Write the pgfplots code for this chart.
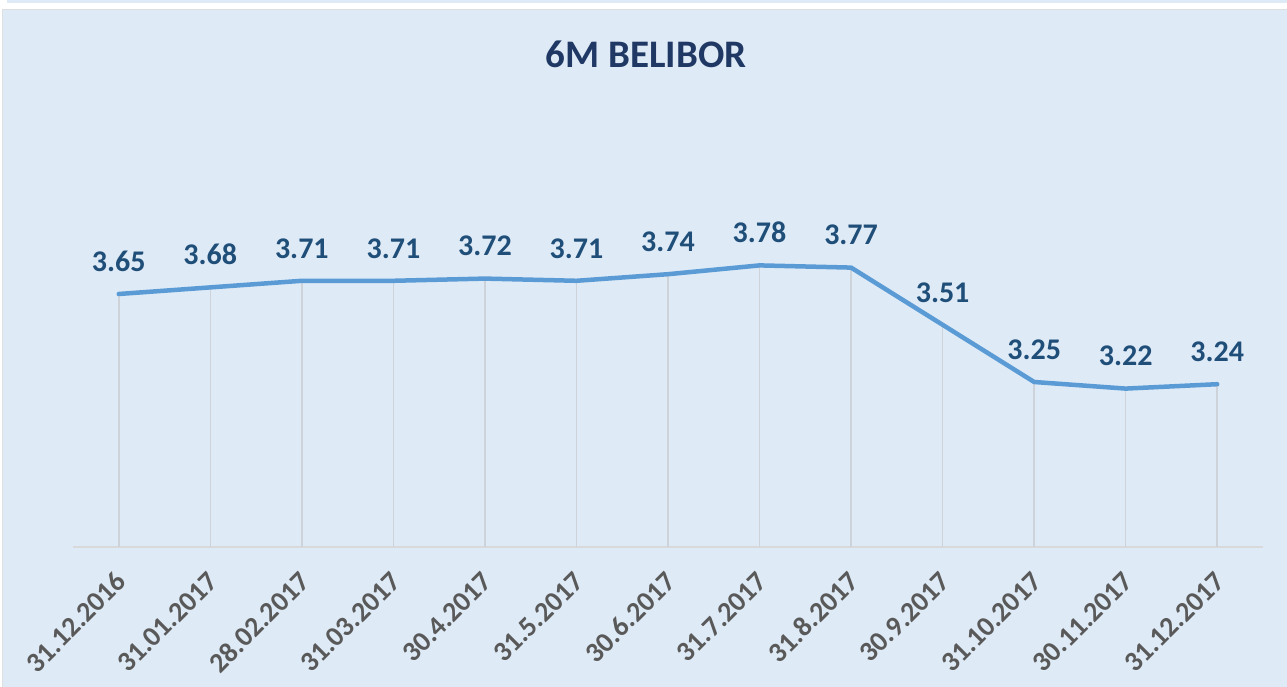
\documentclass[border=0pt]{standalone}
\usepackage{pgfplots}
\pgfplotsset{compat=1.18}
\usepackage{fontspec}
\setmainfont{Carlito}
\definecolor{bgblue}{HTML}{DEEAF6}
\definecolor{linecol}{HTML}{5B9BD5}
\definecolor{labcol}{HTML}{1F4E79}
\definecolor{titlecol}{HTML}{203864}
\definecolor{tickcol}{HTML}{595959}
\definecolor{dropcol}{HTML}{CDD3D9}
\begin{document}
\begin{tikzpicture}[x=1pt,y=1pt]
\useasboundingbox (0,0) rectangle (1287,687);
\fill[white] (0,0) rectangle (1287,687);
\fill[bgblue] (7,684) rectangle (1287,687);
\draw[gray!25, fill=bgblue, line width=1pt] (2,-2) rectangle (1290,677);
\node[font=\bfseries\fontsize{39}{42}\selectfont, text=titlecol] at (646,633) {6M BELIBOR};
\begin{axis}[
  at={(73pt,140pt)}, anchor=south west,
  scale only axis, width=1190pt, height=440pt,
  xmin=-0.5, xmax=12.5, ymin=2.5, ymax=4.5,
  axis y line=none, axis x line=bottom,
  x axis line style={draw=gray!30, line width=2pt, -},
  xtick={0,...,12},
  xticklabels={31.12.2016,31.01.2017,28.02.2017,31.03.2017,30.4.2017,31.5.2017,30.6.2017,31.7.2017,31.8.2017,30.9.2017,31.10.2017,30.11.2017,31.12.2017},
  xtick style={draw=none},
  xticklabel style={xshift=5pt, yshift=-25pt, rotate=45, anchor=east, font=\bfseries\fontsize{28}{30}\selectfont, text=tickcol},
  clip=true,
]
\addplot[dropcol, line width=1.6pt, ycomb, mark=none] coordinates {
(0,3.65) (1,3.68) (2,3.71) (3,3.71) (4,3.72) (5,3.71) (6,3.74) (7,3.78) (8,3.77) (9,3.51) (10,3.25) (11,3.22) (12,3.24)};
\addplot[linecol, line width=4.5pt, mark=none, line join=round, line cap=round,
  nodes near coords={\pgfmathprintnumber[fixed,fixed zerofill,precision=2,assume math mode=true]{\pgfplotspointmeta}},
  every node near coord/.append style={font=\bfseries\fontsize{30}{32}\selectfont, text=labcol, anchor=south, yshift=17pt}
] coordinates {
(0,3.65) (1,3.68) (2,3.71) (3,3.71) (4,3.72) (5,3.71) (6,3.74) (7,3.78) (8,3.77) (9,3.51) (10,3.25) (11,3.22) (12,3.24)};
\end{axis}
\end{tikzpicture}
\end{document}
